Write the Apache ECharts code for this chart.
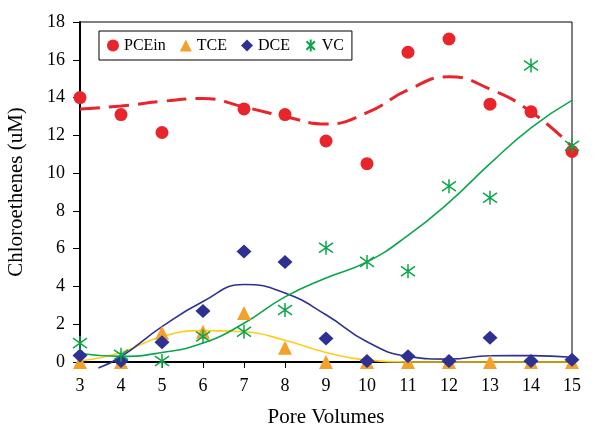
<!DOCTYPE html>
<html>
<head>
<meta charset="utf-8">
<script src="https://cdn.jsdelivr.net/npm/echarts@6/dist/echarts.min.js"></script>
<style>
  html, body { margin: 0; padding: 0; background: #fff; }
  #chart { width: 594px; height: 425px; }
</style>
</head>
<body>
<div id="chart"></div>
<script>
// measured points (pore volumes 3..15)
var poreVolumes = [3, 4, 5, 6, 7, 8, 9, 10, 11, 12, 13, 14, 15];
var pceIn = [14.0, 13.1, 12.15, null, 13.4, 13.1, 11.7, 10.5, 16.4, 17.1, 13.65, 13.25, 11.15];
var tce = [0, 0, 1.55, 1.6, 2.6, 0.75, 0, 0, 0, 0, 0, 0, 0];
var dce = [0.35, 0.05, 1.05, 2.7, 5.85, 5.3, 1.25, 0.05, 0.3, 0.05, 1.28, 0.05, 0.12];
var vc = [1.0, 0.38, 0.05, 1.35, 1.6, 2.75, 6.05, 5.3, 4.8, 9.3, 8.7, 15.7, 11.45];

// fitted curves
var pceFit = [13.4, 13.55, 13.8, 13.95, 13.5, 13.0, 12.6, 13.2, 14.4, 15.1, 14.45, 13.25, 11.4];
var tceFit = [0.05, 0.5, 1.35, 1.66, 1.6, 1.15, 0.5, 0.1, 0, 0, 0, 0, 0];
var dceFitX = [3.45, 4, 5, 6, 7, 8, 9, 10, 11, 12, 13, 14, 15];
var dceFit = [-0.32, 0.28, 1.87, 3.2, 4.1, 3.65, 2.5, 1.07, 0.3, 0.15, 0.33, 0.34, 0.25];
var vcFit = [0.45, 0.3, 0.5, 1.0, 2.05, 3.45, 4.45, 5.3, 6.7, 8.45, 10.5, 12.4, 13.85];

var yTicks = [0, 2, 4, 6, 8, 10, 12, 14, 16, 18];

function pairs(xs, ys) {
  var out = [];
  for (var i = 0; i < xs.length; i++) {
    if (ys[i] !== null) out.push([xs[i], ys[i]]);
  }
  return out;
}

var RED = '#e8252b';
var ORANGE = '#f2a22a';
var YELLOW = '#ffcc1a';
var NAVY = '#2e3192';
var GREEN = '#0aa64a';
var FONT = 'Liberation Serif';
var asterisk = 'path://M1.5,1.5L8.5,8.5M8.5,1.5L1.5,8.5M5,0L5,10';

var myChart = echarts.init(document.getElementById('chart'));
var option = {
  animation: false,
  grid: {
    left: 80,
    right: 22,
    top: 22,
    bottom: 63,
    containLabel: false,
    outerBoundsMode: 'none',
    show: true,
    borderColor: '#000',
    borderWidth: 1
  },
  legend: {
    left: 99,
    top: 31,
    width: 244,
    padding: [6, 8, 6, 8],
    borderColor: '#000',
    borderWidth: 1,
    itemGap: 14,
    itemWidth: 12,
    itemHeight: 12,
    textStyle: { fontFamily: FONT, fontSize: 16, color: '#000' },
    data: ['PCEin', 'TCE', 'DCE', 'VC']
  },
  xAxis: {
    type: 'value',
    min: 3,
    max: 15,
    interval: 1,
    name: 'Pore Volumes',
    nameLocation: 'middle',
    nameGap: 45,
    nameTextStyle: { fontFamily: FONT, fontSize: 21, color: '#000' },
    axisLine: { lineStyle: { color: '#000', width: 2 } },
    axisTick: { length: 6, lineStyle: { color: '#000' } },
    axisLabel: { fontFamily: FONT, fontSize: 18, color: '#000', margin: 15 },
    splitLine: { show: false }
  },
  yAxis: {
    type: 'value',
    min: 0,
    max: 18,
    interval: 2,
    name: 'Chloroethenes (uM)',
    nameLocation: 'middle',
    nameGap: 53,
    nameTextStyle: { fontFamily: FONT, fontSize: 21, color: '#000' },
    axisLine: { lineStyle: { color: '#000', width: 2 } },
    axisTick: { length: 7, lineStyle: { color: '#000' } },
    axisLabel: {
      fontFamily: FONT, fontSize: 18, color: '#000', margin: 15,
      formatter: function (v) { return yTicks.indexOf(v) >= 0 ? v : ''; }
    },
    splitLine: { show: false }
  },
  series: [
    {
      type: 'line', data: pairs(poreVolumes, tceFit), smooth: 0.5, showSymbol: false,
      clip: false, lineStyle: { color: YELLOW, width: 1.6 }, z: 1
    },
    {
      type: 'line', data: pairs(dceFitX, dceFit), smooth: 0.5, showSymbol: false,
      clip: false, lineStyle: { color: NAVY, width: 1.6 }, z: 1
    },
    {
      type: 'line', data: pairs(poreVolumes, vcFit), smooth: 0.5, showSymbol: false,
      clip: false, lineStyle: { color: GREEN, width: 1.6 }, z: 1
    },
    {
      type: 'line', data: pairs(poreVolumes, pceFit), smooth: 0.5, showSymbol: false,
      clip: false, lineStyle: { color: RED, width: 3, type: [20, 9] }, z: 1
    },
    {
      name: 'PCEin', type: 'scatter', data: pairs(poreVolumes, pceIn),
      symbol: 'circle', symbolSize: 13, clip: false,
      itemStyle: { color: RED, opacity: 1 }, z: 3
    },
    {
      name: 'TCE', type: 'scatter', data: pairs(poreVolumes, tce),
      symbol: 'triangle', symbolSize: 14, clip: false,
      itemStyle: { color: ORANGE, opacity: 1 }, z: 3
    },
    {
      name: 'DCE', type: 'scatter', data: pairs(poreVolumes, dce),
      symbol: 'diamond', symbolSize: [15, 14], clip: false,
      itemStyle: { color: NAVY, opacity: 1 }, z: 4
    },
    {
      name: 'VC', type: 'scatter', data: pairs(poreVolumes, vc),
      symbol: asterisk, symbolSize: 14, clip: false,
      itemStyle: { color: 'none', borderColor: GREEN, borderWidth: 1.5, opacity: 1 }, z: 5
    }
  ]
};
myChart.setOption(option);
</script>
</body>
</html>
